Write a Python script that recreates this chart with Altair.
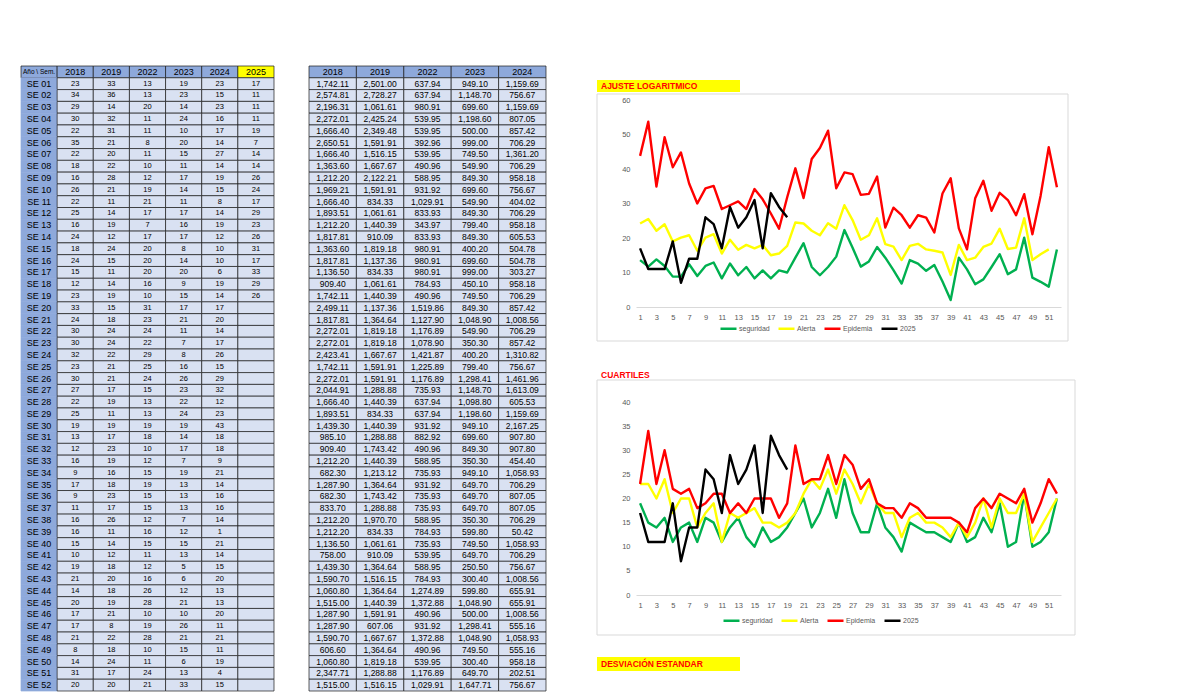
import altair as alt
import pandas as pd

# ---------------- data ----------------
semanas = [f"SE {i:02d}" for i in range(1, 53)]
anios_casos = ["2018", "2019", "2022", "2023", "2024", "2025"]
anios_tasa = ["2018", "2019", "2022", "2023", "2024"]

casos_2018 = [23, 34, 29, 30, 22, 35, 22, 18, 16, 26, 22, 25, 16, 24, 18, 24, 15, 12, 23, 33,
              24, 30, 30, 32, 23, 30, 27, 22, 25, 19, 13, 12, 16, 9, 17, 9, 11, 16, 16, 15,
              10, 19, 21, 14, 20, 17, 17, 21, 8, 14, 31, 20]
casos_2019 = [33, 36, 14, 32, 31, 21, 20, 22, 28, 21, 11, 14, 19, 12, 24, 15, 11, 14, 19, 15,
              18, 24, 24, 22, 21, 21, 17, 19, 11, 19, 17, 23, 19, 16, 18, 23, 17, 26, 11, 14,
              12, 18, 20, 18, 19, 21, 8, 22, 18, 24, 17, 20]
casos_2022 = [13, 13, 20, 11, 11, 8, 11, 10, 12, 19, 21, 17, 7, 17, 20, 20, 20, 16, 10, 31,
              23, 24, 22, 29, 25, 24, 15, 13, 13, 19, 18, 10, 12, 15, 19, 15, 15, 12, 16, 15,
              11, 12, 16, 26, 28, 10, 19, 28, 10, 11, 24, 21]
casos_2023 = [19, 23, 14, 24, 10, 20, 15, 11, 17, 14, 11, 17, 16, 17, 8, 14, 20, 9, 15, 17,
              21, 11, 7, 8, 16, 26, 23, 22, 24, 19, 14, 17, 7, 19, 13, 13, 13, 7, 12, 15,
              13, 5, 6, 12, 21, 10, 26, 21, 15, 6, 13, 33]
casos_2024 = [23, 15, 23, 16, 17, 14, 27, 14, 19, 15, 8, 14, 19, 12, 10, 10, 6, 19, 14, 17,
              20, 14, 17, 26, 15, 29, 32, 12, 23, 43, 18, 18, 9, 21, 14, 16, 16, 14, 1, 21,
              14, 15, 20, 13, 13, 20, 11, 21, 11, 19, 4, 15]
casos_2025 = [17, 11, 11, 11, 19, 7, 14, 14, 26, 24, 17, 29, 23, 26, 31, 17, 33, 29, 26]

tasa_2018 = [1742.11, 2574.81, 2196.31, 2272.01, 1666.40, 2650.51, 1666.40, 1363.60, 1212.20, 1969.21,
             1666.40, 1893.51, 1212.20, 1817.81, 1363.60, 1817.81, 1136.50, 909.40, 1742.11, 2499.11,
             1817.81, 2272.01, 2272.01, 2423.41, 1742.11, 2272.01, 2044.91, 1666.40, 1893.51, 1439.30,
             985.10, 909.40, 1212.20, 682.30, 1287.90, 682.30, 833.70, 1212.20, 1212.20, 1136.50,
             758.00, 1439.30, 1590.70, 1060.80, 1515.00, 1287.90, 1287.90, 1590.70, 606.60, 1060.80,
             2347.71, 1515.00]
tasa_2019 = [2501.00, 2728.27, 1061.61, 2425.24, 2349.48, 1591.91, 1516.15, 1667.67, 2122.21, 1591.91,
             834.33, 1061.61, 1440.39, 910.09, 1819.18, 1137.36, 834.33, 1061.61, 1440.39, 1137.36,
             1364.64, 1819.18, 1819.18, 1667.67, 1591.91, 1591.91, 1288.88, 1440.39, 834.33, 1440.39,
             1288.88, 1743.42, 1440.39, 1213.12, 1364.64, 1743.42, 1288.88, 1970.70, 834.33, 1061.61,
             910.09, 1364.64, 1516.15, 1364.64, 1440.39, 1591.91, 607.06, 1667.67, 1364.64, 1819.18,
             1288.88, 1516.15]
tasa_2022 = [637.94, 637.94, 980.91, 539.95, 539.95, 392.96, 539.95, 490.96, 588.95, 931.92,
             1029.91, 833.93, 343.97, 833.93, 980.91, 980.91, 980.91, 784.93, 490.96, 1519.86,
             1127.90, 1176.89, 1078.90, 1421.87, 1225.89, 1176.89, 735.93, 637.94, 637.94, 931.92,
             882.92, 490.96, 588.95, 735.93, 931.92, 735.93, 735.93, 588.95, 784.93, 735.93,
             539.95, 588.95, 784.93, 1274.89, 1372.88, 490.96, 931.92, 1372.88, 490.96, 539.95,
             1176.89, 1029.91]
tasa_2023 = [949.10, 1148.70, 699.60, 1198.60, 500.00, 999.00, 749.50, 549.90, 849.30, 699.60,
             549.90, 849.30, 799.40, 849.30, 400.20, 699.60, 999.00, 450.10, 749.50, 849.30,
             1048.90, 549.90, 350.30, 400.20, 799.40, 1298.41, 1148.70, 1098.80, 1198.60, 949.10,
             699.60, 849.30, 350.30, 949.10, 649.70, 649.70, 649.70, 350.30, 599.80, 749.50,
             649.70, 250.50, 300.40, 599.80, 1048.90, 500.00, 1298.41, 1048.90, 749.50, 300.40,
             649.70, 1647.71]
tasa_2024 = [1159.69, 756.67, 1159.69, 807.05, 857.42, 706.29, 1361.20, 706.29, 958.18, 756.67,
             404.02, 706.29, 958.18, 605.53, 504.78, 504.78, 303.27, 958.18, 706.29, 857.42,
             1008.56, 706.29, 857.42, 1310.82, 756.67, 1461.96, 1613.09, 605.53, 1159.69, 2167.25,
             907.80, 907.80, 454.40, 1058.93, 706.29, 807.05, 807.05, 706.29, 50.42, 1058.93,
             706.29, 756.67, 1008.56, 655.91, 655.91, 1008.56, 555.16, 1058.93, 555.16, 958.18,
             202.51, 756.67]

# Ajuste logaritmico
log_seguridad = [13.6, 11.7, 13.8, 11.9, 8.8, 8.8, 12.4, 9.0, 11.9, 12.9,
                 8.3, 12.6, 9.2, 11.6, 8.3, 10.6, 8.3, 10.6, 10.0, 14.3,
                 18.5, 11.6, 9.2, 11.6, 14.6, 22.3, 17.2, 11.7, 13.2, 17.4,
                 14.3, 10.7, 6.8, 13.6, 12.6, 10.5, 12.2, 7.4, 2.0, 14.3,
                 10.9, 6.6, 8.0, 11.6, 15.3, 9.5, 10.9, 20.1, 8.5, 7.3, 5.9, 16.7]
log_alerta = [24.2, 25.5, 22.1, 24.0, 19.0, 20.1, 20.8, 16.3, 20.1, 21.1,
              15.5, 19.5, 16.6, 18.0, 17.0, 18.0, 15.0, 15.5, 17.7, 24.5,
              24.2, 22.1, 20.8, 24.3, 22.7, 29.5, 25.2, 19.5, 20.8, 25.7,
              18.2, 17.5, 13.6, 17.7, 18.3, 16.7, 16.3, 15.8, 9.3, 18.0,
              13.6, 14.3, 17.4, 18.4, 22.7, 16.8, 17.2, 25.7, 13.6, 15.3, 16.7]
log_epidemia = [43.8, 53.7, 34.9, 49.2, 40.5, 44.8, 35.8, 30.0, 34.4, 35.1,
                28.4, 29.5, 30.6, 28.4, 34.2, 31.2, 27.1, 22.7, 31.8, 40.2,
                31.6, 42.9, 46.1, 51.1, 34.4, 39.0, 38.5, 32.5, 32.8, 37.8,
                23.0, 28.8, 26.6, 23.0, 26.6, 25.9, 21.6, 32.9, 37.3, 22.8,
                16.7, 31.5, 36.6, 27.9, 33.1, 31.0, 26.6, 32.7, 21.1, 32.2, 46.3, 34.7]

# Cuartiles
q_seguridad = [19, 15, 14, 16, 11, 14, 15, 11, 16, 15, 11, 14, 16, 12, 10, 14, 11, 12, 14, 17,
               20, 14, 17, 22, 16, 24, 17, 13, 13, 19, 14, 12, 9, 15, 14, 13, 13, 12, 11, 15,
               11, 12, 16, 13, 19, 10, 11, 21, 10, 11, 13, 20]
q_alerta = [23, 23, 20, 24, 17, 20, 20, 14, 17, 19, 11, 17, 16, 17, 18, 15, 15, 14, 15, 17,
            21, 24, 22, 26, 21, 26, 23, 19, 23, 19, 17, 17, 12, 16, 17, 15, 15, 14, 12, 15,
            12, 15, 20, 14, 20, 17, 17, 21, 11, 14, 17, 20]
q_epidemia = [23, 34, 23, 30, 22, 21, 22, 18, 19, 21, 21, 17, 19, 17, 20, 20, 20, 16, 19, 31,
              23, 24, 24, 29, 23, 29, 27, 22, 24, 19, 18, 18, 16, 19, 18, 16, 16, 16, 16, 15,
              13, 18, 20, 18, 21, 20, 19, 22, 15, 19, 24, 21]

series_names = ["seguridad", "Alerta", "Epidemia", "2025"]
series_colors = ["#00B050", "#FFFF00", "#FF0000", "#000000"]

# ---------------- styling / layout constants ----------------
TFONT = "Liberation Sans Narrow, Arial Narrow, Liberation Sans"
CFONT = "Liberation Sans, Arial"
TABLE_H = 682
ROWS_ABOVE = 4.834
kinds = ["head", "head25", "week", "cell"]
kind_fill = ["#8EA9DB", "#FFFF00", "#8EA9DB", "#D9E1F2"]
kind_stroke = ["#1a1a1a", "#1a1a1a", "#8EA9DB", "#1a1a1a"]


# ---------------- tables ----------------
def table_frame(header, body_cols, first_is_week):
    recs = []
    for c, lab in enumerate(header):
        recs.append(dict(c=c, r=0, kind="head25" if lab == "2025" else "head", text=lab,
                         corner=bool(first_is_week and c == 0)))
    for i in range(52):
        for c, col in enumerate(body_cols):
            val = col[i] if i < len(col) else ""
            kind = "week" if (first_is_week and c == 0) else "cell"
            recs.append(dict(c=c, r=i + 1, kind=kind, text=val, corner=False))
    df = pd.DataFrame(recs)
    df["c2"] = df["c"] + 1
    df["r2"] = df["r"] + 1
    df["cm"] = df["c"] + 0.5
    df["rm"] = df["r"] + 0.5
    return df


def table_chart(df, ncols, cells_width, extra_right, num_size):
    width = cells_width + extra_right
    ys = alt.Scale(domain=[-ROWS_ABOVE, 53], reverse=True, nice=False, zero=False)
    xs = alt.Scale(domain=[0, ncols * width / cells_width], nice=False, zero=False)
    base = alt.Chart(df)
    cells = base.mark_rect(strokeWidth=0.7).encode(
        x=alt.X("c:Q", scale=xs, axis=None), x2="c2:Q",
        y=alt.Y("r:Q", scale=ys, axis=None), y2="r2:Q",
        fill=alt.Fill("kind:N", scale=alt.Scale(domain=kinds, range=kind_fill), legend=None),
        stroke=alt.Stroke("kind:N", scale=alt.Scale(domain=kinds, range=kind_stroke), legend=None),
    )
    txt_head = base.transform_filter("datum.r == 0 && !datum.corner").mark_text(
        font=TFONT, fontSize=9, color="#000000", baseline="middle").encode(
        x=alt.X("cm:Q", scale=xs), y=alt.Y("rm:Q", scale=ys), text="text:N")
    txt_corner = base.transform_filter("datum.corner").mark_text(
        font=TFONT, fontSize=6.5, color="#000000", baseline="middle").encode(
        x=alt.X("cm:Q", scale=xs), y=alt.Y("rm:Q", scale=ys), text="text:N")
    txt_week = base.transform_filter("datum.kind == 'week'").mark_text(
        font=TFONT, fontSize=9, color="#000000", baseline="middle").encode(
        x=alt.X("cm:Q", scale=xs), y=alt.Y("rm:Q", scale=ys), text="text:N")
    txt_cell = base.transform_filter("datum.kind == 'cell'").mark_text(
        font=TFONT, fontSize=num_size, color="#000000", baseline="middle").encode(
        x=alt.X("cm:Q", scale=xs), y=alt.Y("rm:Q", scale=ys), text="text:N")
    return alt.layer(cells, txt_head, txt_corner, txt_week, txt_cell).properties(
        width=width, height=TABLE_H)


casos_cols = [semanas] + [[str(v) for v in col] for col in
                          [casos_2018, casos_2019, casos_2022, casos_2023, casos_2024, casos_2025]]
casos_df = table_frame(["Año \\ Sem."] + anios_casos, casos_cols, True)
casos_chart = table_chart(casos_df, 7, 253, 33, 7.5)

tasa_cols = [[f"{v:,.2f}" for v in col] for col in [tasa_2018, tasa_2019, tasa_2022, tasa_2023, tasa_2024]]
tasa_df = table_frame(anios_tasa, tasa_cols, False)
tasa_chart = table_chart(tasa_df, 5, 237, 49, 8.5)


# ---------------- line charts ----------------
def series_df(seg, ale, epi, cur):
    recs = []
    for name, vals in zip(series_names, [seg, ale, epi, cur]):
        for i, v in enumerate(vals):
            recs.append(dict(sem=i + 1, v=v, serie=name))
    return pd.DataFrame(recs)


def deco_text(text, x, y, size=8.5):
    return alt.Chart(pd.DataFrame({"t": [text]})).mark_text(
        align="left", baseline="middle", color="#FF0000", fontWeight="bold",
        fontSize=size, font=CFONT).encode(x=alt.value(x), y=alt.value(y), text="t:N")


def deco_rect(x0, x1, y0, y1, fill, stroke=None):
    kw = dict(fill=fill)
    if stroke:
        kw.update(stroke=stroke, strokeWidth=1)
    return alt.Chart(pd.DataFrame({"t": [0]})).mark_rect(**kw).encode(
        x=alt.value(x0), x2=alt.value(x1), y=alt.value(y0), y2=alt.value(y1))


def line_chart(df, height, ytop, yvals, legend_x, legend_y, decos):
    xs = alt.Scale(domain=[0.5, 52.5], nice=False, zero=False)
    ysc = alt.Scale(domain=[0, ytop], nice=False, zero=True)
    legend = alt.Legend(orient="none", legendX=legend_x, legendY=legend_y, direction="horizontal",
                        columns=4, symbolType="stroke", symbolSize=256, symbolStrokeWidth=2.5,
                        labelFontSize=7, labelColor="#595959", labelFont=CFONT,
                        labelOffset=1, columnPadding=3)
    layers = []
    for name in series_names:
        layers.append(
            alt.Chart(df).transform_filter(alt.datum.serie == name).mark_line(
                strokeWidth=2.4, strokeJoin="round").encode(
                x=alt.X("sem:Q", scale=xs, title=None,
                        axis=alt.Axis(values=list(range(1, 53, 2)), format="d", grid=False,
                                      ticks=False, domainColor="#D9D9D9", domainWidth=1,
                                      labelPadding=6, labelFontSize=7.5, labelColor="#595959",
                                      labelFont=CFONT, labelFlush=False)),
                y=alt.Y("v:Q", scale=ysc, title=None,
                        axis=alt.Axis(values=yvals, grid=False, ticks=False, domain=False,
                                      labelPadding=6, labelFontSize=7.5, labelColor="#595959",
                                      labelFont=CFONT)),
                color=alt.Color("serie:N", title=None,
                                scale=alt.Scale(domain=series_names, range=series_colors),
                                legend=legend),
            )
        )
    return alt.layer(*decos, *layers).properties(width=425, height=height)


log_df = series_df(log_seguridad, log_alerta, log_epidemia, casos_2025)
q_df = series_df(q_seguridad, q_alerta, q_epidemia, casos_2025)

# chart 1: plot spans page y 8..306 (value 0 at 306, 60 at 99)
chart1 = line_chart(
    log_df, 298, 60 * 298 / 207, [0, 10, 20, 30, 40, 50, 60], 83, 310,
    [deco_rect(-39, 432, 85, 332, "transparent", "#D9D9D9"),
     deco_rect(-39, 104, 71, 83, "#FFFF00"),
     deco_text("AJUSTE LOGARITMICO", -35, 77)])

# chart 2: plot spans page y ~343..595 (value 0 at 595, 40 at 402)
chart2 = line_chart(
    q_df, 252, 40 * 252 / 193, [0, 5, 10, 15, 20, 25, 30, 35, 40], 86, 268,
    [deco_rect(-39, 439, 37, 292, "transparent", "#D9D9D9"),
     deco_text("CUARTILES", -35, 32),
     deco_rect(-39, 104, 314, 328, "#FFFF00"),
     deco_text("DESVIACIÓN ESTANDAR", -35, 321)])

right = alt.vconcat(chart1, chart2, spacing=0).resolve_scale(
    color="independent").resolve_legend(color="independent")

chart = alt.hconcat(casos_chart, tasa_chart, right, spacing=0).resolve_scale(
    x="independent", y="independent", fill="independent", stroke="independent",
    color="independent").properties(
    padding={"left": 12, "top": 0, "right": 0, "bottom": 0}
).configure_view(stroke="transparent")

chart.save("out.html", embed_options={"renderer": "svg", "actions": False})
